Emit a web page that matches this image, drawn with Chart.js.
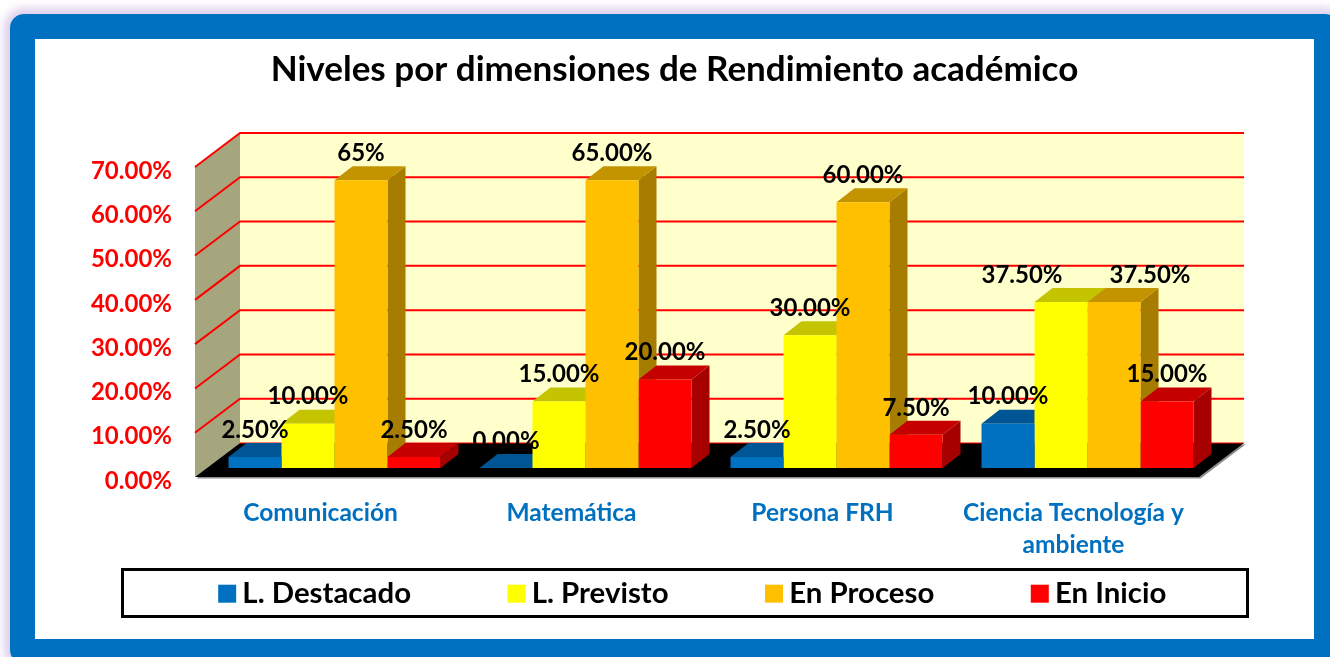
<!DOCTYPE html>
<html lang="es">
<head>
<meta charset="utf-8">
<title>Niveles por dimensiones de Rendimiento académico</title>
<script src="https://cdn.jsdelivr.net/npm/chart.js@4"></script>
<style>
  html, body { margin: 0; height: 100%; background: #fff; overflow: hidden; }
  .frame {
    position: absolute; left: 10px; top: 14px; width: 1279px; height: 600px;
    border: 25px solid #0070C0; border-radius: 14px;
    box-shadow: 0 0 10px 6px #DCCFEC;
  }
  canvas { display: block; background: #fff; }
</style>
</head>
<body>
<div class="frame"><canvas id="chart" width="1279" height="600"></canvas></div>
<script>
const categories = ["Comunicación", "Matemática", "Persona FRH", ["Ciencia Tecnología y", "ambiente"]];
const seriesNames = ["L. Destacado", "L. Previsto", "En Proceso", "En Inicio"];
const destacado = [2.5, 0, 2.5, 10];
const previsto = [10, 15, 30, 37.5];
const proceso = [65, 65, 60, 37.5];
const inicio = [2.5, 20, 7.5, 15];
const seriesColors = ["#0070C0", "#FFFF00", "#FFC000", "#FF0000"];

const FONT = "Lato";

// tick labels sit a little below the front edge of the room in the original
const FRONT_LIFT = -4;
const ROOM = { dx: 45, dy: -34 };
const BAR_SHIFT = { dx: 14, dy: -9 + FRONT_LIFT };
const BAR_DEPTH = { dx: 18, dy: -14 };

// labels that were edited or dragged by hand in the original
const labelText = { "2:0": "65%" };
const labelNudge = { "1:3": -39, "2:3": 36 };

function shade(hex, k) {
  const n = parseInt(hex.slice(1), 16);
  const c = [n >> 16, (n >> 8) & 255, n & 255].map(v => Math.round(v * k));
  return `rgb(${c[0]},${c[1]},${c[2]})`;
}

function poly(ctx, pts, fill) {
  ctx.beginPath();
  pts.forEach((p, i) => i ? ctx.lineTo(p[0], p[1]) : ctx.moveTo(p[0], p[1]));
  ctx.closePath();
  ctx.fillStyle = fill;
  ctx.fill();
}

function drawRoom(chart) {
  const { ctx, chartArea: a, scales } = chart;
  const d = ROOM;
  const yTop = a.top + FRONT_LIFT, yBot = a.bottom + FRONT_LIFT;
  // back wall, side wall
  poly(ctx, [[a.left + d.dx, yTop + d.dy], [a.right + d.dx, yTop + d.dy], [a.right + d.dx, yBot + d.dy], [a.left + d.dx, yBot + d.dy]], "#FFFFCC");
  poly(ctx, [[a.left, yTop], [a.left + d.dx, yTop + d.dy], [a.left + d.dx, yBot + d.dy], [a.left, yBot]], "#A6A67E");
  // floor with its thin grey edge
  const floor = [[a.left, yBot], [a.left + d.dx, yBot + d.dy], [a.right + d.dx, yBot + d.dy], [a.right, yBot]];
  poly(ctx, floor.map(p => [p[0] + 1.5, p[1] + 1.5]), "#8C8C8C");
  poly(ctx, floor, "#000");
  // gridlines run along the side wall and then the back wall
  ctx.strokeStyle = "#FF0000";
  scales.y.ticks.forEach(t => {
    const y = scales.y.getPixelForValue(t.value) + FRONT_LIFT;
    ctx.lineWidth = t.value === 0 ? 1 : 2;
    ctx.beginPath();
    if (t.value > 0) ctx.moveTo(a.left, y);
    else ctx.moveTo(a.left + d.dx, y + d.dy);
    ctx.lineTo(a.left + d.dx, y + d.dy);
    ctx.lineTo(a.right + d.dx, y + d.dy);
    ctx.stroke();
  });
}

function drawBarDepth(chart) {
  const { ctx } = chart;
  const d = BAR_DEPTH;
  categories.forEach((c, i) => {
    chart.data.datasets.forEach((ds, s) => {
      const bar = chart.getDatasetMeta(s).data[i];
      const l = bar.x - bar.width / 2, r = bar.x + bar.width / 2;
      poly(ctx, [[r, bar.y], [r + d.dx, bar.y + d.dy], [r + d.dx, bar.base + d.dy], [r, bar.base]], shade(seriesColors[s], 0.65));
      poly(ctx, [[l, bar.y], [l + d.dx, bar.y + d.dy], [r + d.dx, bar.y + d.dy], [r, bar.y]], shade(seriesColors[s], 0.77));
    });
  });
}

const room3d = {
  id: "room3d",
  beforeInit(chart) {
    // legend padding is only wanted between the items, not above and below
    const fit = chart.legend.fit;
    chart.legend.fit = function () {
      fit.call(this);
      this.height = 49;
    };
  },
  afterLayout(chart) {
    const lg = chart.legend;
    const p = lg.options.labels.padding;
    lg.top = lg.top - p + 11;
    lg.left += 22;
    lg.right += 22;
  },
  beforeDraw(chart) {
    const { ctx } = chart;
    ctx.save();
    ctx.strokeStyle = "#000";
    ctx.lineWidth = 3;
    ctx.strokeRect(87.5, 530.5, 1125, 47);
    ctx.restore();
  },
  beforeDatasetsDraw(chart) {
    const { ctx } = chart;
    drawRoom(chart);
    ctx.save();
    ctx.translate(BAR_SHIFT.dx, BAR_SHIFT.dy);
    drawBarDepth(chart);
  },
  afterDatasetsDraw(chart) {
    chart.ctx.restore();
  },
  afterDraw(chart) {
    const { ctx } = chart;
    ctx.save();
    ctx.font = `bold 24px ${FONT}`;
    ctx.fillStyle = "#000";
    ctx.textAlign = "center";
    ctx.textBaseline = "middle";
    chart.data.datasets.forEach((ds, s) => {
      chart.getDatasetMeta(s).data.forEach((bar, i) => {
        const key = s + ":" + i;
        const txt = labelText[key] || ds.data[i].toFixed(2) + "%";
        ctx.fillText(txt, bar.x + BAR_SHIFT.dx + (labelNudge[key] || 0), bar.y + BAR_SHIFT.dy - 27);
      });
    });
    ctx.restore();
  }
};

new Chart(document.getElementById("chart"), {
  type: "bar",
  data: {
    labels: categories,
    datasets: [destacado, previsto, proceso, inicio].map((values, s) => ({
      label: seriesNames[s],
      data: values,
      backgroundColor: seriesColors[s],
      borderWidth: 0,
      clip: false,
      categoryPercentage: 212 / 251,
      barPercentage: 1
    }))
  },
  options: {
    responsive: false,
    animation: false,
    events: [],
    layout: { padding: { bottom: 22 } },
    plugins: {
      title: {
        display: true,
        text: "Niveles por dimensiones de Rendimiento académico",
        color: "#000",
        font: { family: FONT, size: 35, weight: "bold", lineHeight: 1.2 },
        padding: { top: 10, bottom: 80 }
      },
      legend: {
        position: "bottom",
        labels: {
          padding: 105,
          boxWidth: 1,
          boxHeight: 1,
          color: "#000",
          font: { family: FONT, size: 29.4, weight: "bold" },
          generateLabels(chart) {
            // thick outline in the fill colour keeps the text close to the marker
            return Chart.defaults.plugins.legend.labels.generateLabels(chart).map(item => {
              item.strokeStyle = item.fillStyle;
              item.lineWidth = 17;
              return item;
            });
          }
        }
      },
      tooltip: { enabled: false }
    },
    scales: {
      x: {
        grid: { display: false },
        border: { display: false },
        ticks: {
          color: "#0070C0",
          padding: 8,
          maxRotation: 0,
          font: { family: FONT, size: 24.5, weight: "bold", lineHeight: 1.3 }
        },
        afterFit(scale) { scale.height = 87; }
      },
      y: {
        min: 0,
        max: 70,
        grid: { display: false },
        border: { display: false },
        ticks: {
          stepSize: 10,
          color: "#FF0000",
          padding: 15,
          font: { family: FONT, size: 24, weight: "bold" },
          callback: v => v.toFixed(2) + "%"
        },
        afterFit(scale) { scale.width = 160; }
      },
      // empty axis, only reserves the room for the back wall on the right
      spacer: {
        position: "right",
        min: 0,
        max: 70,
        grid: { display: false },
        border: { display: false },
        ticks: { display: false },
        afterFit(scale) { scale.width = 115; }
      }
    }
  },
  plugins: [room3d]
});
</script>
</body>
</html>
